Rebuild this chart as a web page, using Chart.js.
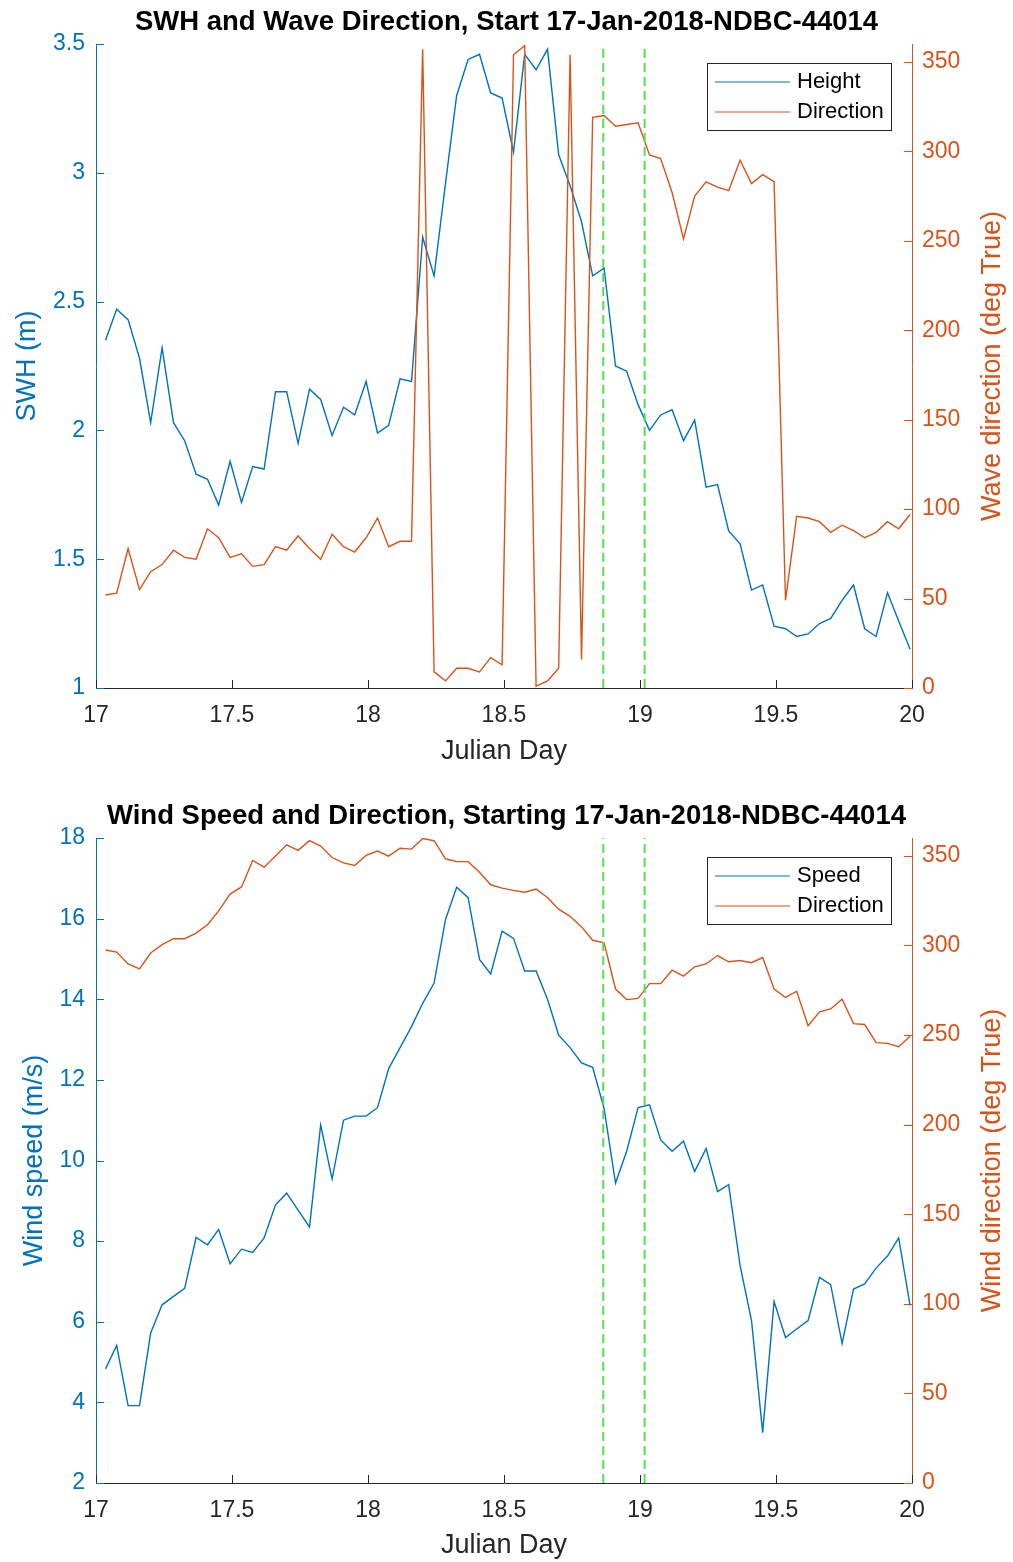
<!DOCTYPE html>
<html lang="en">
<head>
<meta charset="UTF-8">
<title>SWH and Wind - NDBC 44014</title>
<script src="https://cdn.jsdelivr.net/npm/chart.js"></script>
<style>
  body { margin: 0; background: #fff; }
  canvas { display: block; }
</style>
</head>
<body>
<canvas id="waveChart" width="1013" height="781"></canvas>
<canvas id="windChart" width="1013" height="781"></canvas>

<script>
// hourly samples (hh:50), Julian day
const julianDay = [
  17.035, 17.076, 17.118, 17.160, 17.201, 17.243, 17.285, 17.326, 17.368, 17.410, 17.451, 17.493,
  17.535, 17.576, 17.618, 17.660, 17.701, 17.743, 17.785, 17.826, 17.868, 17.910, 17.951, 17.993,
  18.035, 18.076, 18.118, 18.160, 18.201, 18.243, 18.285, 18.326, 18.368, 18.410, 18.451, 18.493,
  18.535, 18.576, 18.618, 18.660, 18.701, 18.743, 18.785, 18.826, 18.868, 18.910, 18.951, 18.993,
  19.035, 19.076, 19.118, 19.160, 19.201, 19.243, 19.285, 19.326, 19.368, 19.410, 19.451, 19.493,
  19.535, 19.576, 19.618, 19.660, 19.701, 19.743, 19.785, 19.826, 19.868, 19.910, 19.951, 19.993
];

// significant wave height (m)
const swh = [
  2.35, 2.47, 2.43, 2.28, 2.03, 2.32, 2.03, 1.96, 1.83, 1.81, 1.71, 1.88,
  1.72, 1.86, 1.85, 2.15, 2.15, 1.95, 2.16, 2.12, 1.98, 2.09, 2.06, 2.19,
  1.99, 2.02, 2.20, 2.19, 2.75, 2.60, 2.96, 3.30, 3.44, 3.46, 3.31, 3.29,
  3.08, 3.46, 3.40, 3.48, 3.07, 2.95, 2.81, 2.60, 2.63, 2.25, 2.23, 2.10,
  2.00, 2.06, 2.08, 1.96, 2.04, 1.78, 1.79, 1.61, 1.56, 1.38, 1.40, 1.24,
  1.23, 1.20, 1.21, 1.25, 1.27, 1.34, 1.40, 1.23, 1.20, 1.37, 1.26, 1.15
];

// mean wave direction (deg True)
const waveDir = [
  52, 53, 78, 55, 65, 69, 77, 73, 72, 89, 84, 73,
  75, 68, 69, 79, 77, 85, 78, 72, 86, 79, 76, 84,
  95, 79, 82, 82, 357, 9, 4, 11, 11, 9, 17, 13,
  354, 359, 1, 4, 11, 354, 16, 319, 320, 314, 315, 316,
  298, 296, 277, 251, 275, 283, 280, 278, 295, 282, 287, 283,
  49, 96, 95, 93, 87, 91, 88, 84, 87, 93, 89, 97
];

// wind speed (m/s)
const windSpeed = [
  4.83, 5.41, 3.92, 3.92, 5.72, 6.42, 6.63, 6.83, 8.09, 7.91, 8.29, 7.44,
  7.80, 7.72, 8.08, 8.90, 9.19, 8.77, 8.35, 10.88, 9.54, 11.00, 11.10, 11.10,
  11.31, 12.28, 12.80, 13.32, 13.90, 14.40, 15.98, 16.78, 16.52, 14.99, 14.63, 15.69,
  15.51, 14.70, 14.70, 14.00, 13.11, 12.80, 12.42, 12.31, 11.29, 9.44, 10.23, 11.31,
  11.38, 10.51, 10.23, 10.48, 9.73, 10.30, 9.23, 9.40, 7.39, 6.03, 3.25, 6.50,
  5.61, 5.82, 6.03, 7.10, 6.92, 5.46, 6.81, 6.94, 7.33, 7.63, 8.08, 6.40
];

// wind direction (deg True)
const windDir = [
  297.5, 296.3, 289.7, 286.9, 295.8, 300.5, 303.8, 303.8, 306.9, 311.6, 319.3, 328.7,
  332.7, 347.5, 343.7, 349.9, 356.2, 353.1, 358.5, 355.5, 349.1, 346.1, 344.7, 350.3,
  352.7, 349.9, 354.3, 353.8, 359.7, 358.5, 348.4, 346.8, 346.8, 340.9, 333.9, 332.0,
  330.8, 329.7, 331.5, 326.8, 320.3, 316.3, 310.4, 302.9, 301.5, 275.7, 269.8, 270.5,
  278.7, 278.7, 286.2, 282.9, 288.1, 289.7, 294.4, 290.9, 291.6, 290.4, 293.3, 275.7,
  271.0, 274.5, 255.2, 263.0, 264.6, 270.0, 256.4, 255.9, 245.8, 245.4, 243.5, 249.4
];

// green dashed markers
const markerDays = [18.865, 19.017];

// axis ticks
const dayTicks = [17, 17.5, 18, 18.5, 19, 19.5, 20];
const swhTicks = [1, 1.5, 2, 2.5, 3, 3.5];
const speedTicks = [2, 4, 6, 8, 10, 12, 14, 16, 18];
const dirTicks = [0, 50, 100, 150, 200, 250, 300, 350];

const FONT = "'Liberation Sans', Arial, Helvetica, sans-serif";
const BLUE = '#0072BD', ORANGE = '#D95319', AXIS = '#262626', GREEN = '#55dd55';

function pts(ys) {
  return ys.map((y, i) => ({ x: julianDay[i], y: y }));
}

// MATLAB style: tick marks point into the plot
const innerTicks = {
  id: 'innerTicks',
  afterDraw(chart) {
    const ctx = chart.ctx, a = chart.chartArea;
    ctx.save();
    ctx.lineWidth = 1;
    ['x', 'yL', 'yR'].forEach(id => {
      const s = chart.scales[id];
      ctx.strokeStyle = s.options.border.color;
      s.ticks.forEach(t => {
        const p = Math.round(s.getPixelForValue(t.value)) + 0.5;
        ctx.beginPath();
        if (id === 'x') { ctx.moveTo(p, a.bottom); ctx.lineTo(p, a.bottom - 8); }
        else if (id === 'yL') { ctx.moveTo(a.left, p); ctx.lineTo(a.left + 8, p); }
        else { ctx.moveTo(a.right, p); ctx.lineTo(a.right - 8, p); }
        ctx.stroke();
      });
    });
    ctx.restore();
  }
};

// right y label reads bottom-to-top like MATLAB
const rightTitle = {
  id: 'rightTitle',
  afterDraw(chart, args, opts) {
    const ctx = chart.ctx, a = chart.chartArea;
    ctx.save();
    ctx.translate(opts.x, (a.top + a.bottom) / 2);
    ctx.rotate(-Math.PI / 2);
    ctx.font = '27px ' + FONT;
    ctx.fillStyle = ORANGE;
    ctx.textAlign = 'center';
    ctx.textBaseline = 'middle';
    ctx.fillText(opts.text, 0, 0);
    ctx.restore();
  }
};

// boxed legend in the top right corner of the axes
const boxLegend = {
  id: 'boxLegend',
  afterDraw(chart) {
    const ctx = chart.ctx, a = chart.chartArea;
    const items = chart.data.datasets
      .filter(d => d.legendRank !== undefined)
      .sort((p, q) => p.legendRank - q.legendRank);
    const w = 184, h = 67;
    const right = a.right - 21, top = a.top + 19, left = right - w;
    ctx.save();
    ctx.fillStyle = '#fff';
    ctx.fillRect(left, top, w, h);
    ctx.strokeStyle = AXIS;
    ctx.lineWidth = 1;
    ctx.strokeRect(left + 0.5, top + 0.5, w, h);
    ctx.font = '22px ' + FONT;
    ctx.textBaseline = 'middle';
    items.forEach((d, i) => {
      const y = top + 19 + i * 30;
      ctx.strokeStyle = d.borderColor;
      ctx.lineWidth = 1.2;
      ctx.beginPath();
      ctx.moveTo(left + 8, y);
      ctx.lineTo(left + 83, y);
      ctx.stroke();
      ctx.fillStyle = '#000';
      ctx.fillText(d.label, left + 90, y);
    });
    ctx.restore();
  }
};

function buildChart(id, o) {
  const yMin = o.leftTicks[0], yMax = o.leftTicks[o.leftTicks.length - 1];
  const markers = markerDays.map(d => ({
    data: [{ x: d, y: yMin }, { x: d, y: yMax }],
    yAxisID: 'yL', borderColor: GREEN, borderWidth: 2, borderDash: [9, 5],
    pointRadius: 0, order: 0
  }));
  return new Chart(document.getElementById(id), {
    type: 'line',
    data: {
      datasets: markers.concat([
        { label: o.rightLabel, data: pts(o.right), yAxisID: 'yR', borderColor: ORANGE,
          borderWidth: 1.4, pointRadius: 0, tension: 0, order: 1, legendRank: 1 },
        { label: o.leftLabel, data: pts(o.left), yAxisID: 'yL', borderColor: BLUE,
          borderWidth: 1.4, pointRadius: 0, tension: 0, order: 2, legendRank: 0 }
      ])
    },
    options: {
      responsive: false,
      animation: false,
      events: [],
      layout: { padding: 0 },
      plugins: {
        legend: { display: false },
        tooltip: { enabled: false },
        title: {
          display: true, text: o.title, color: '#000',
          font: { family: FONT, size: 27.5, weight: 'bold' },
          padding: { top: o.titleTop, bottom: 5.5 }
        },
        rightTitle: { text: o.rightAxisTitle, x: 993 }
      },
      scales: {
        x: {
          type: 'linear', min: 17, max: 20,
          afterFit: s => { s.height = o.xHeight; },
          afterBuildTicks: s => { s.ticks = dayTicks.map(v => ({ value: v })); },
          grid: { display: false, drawTicks: false },
          border: { display: true, color: AXIS, width: 1 },
          ticks: { color: AXIS, padding: 14, maxRotation: 0, font: { family: FONT, size: 23 },
                   callback: v => String(v) },
          title: { display: true, text: 'Julian Day', color: AXIS,
                   font: { family: FONT, size: 27 }, padding: { top: 0, bottom: o.xTitlePad } }
        },
        yL: {
          type: 'linear', position: 'left', min: yMin, max: yMax,
          afterFit: s => { s.width = 96; },
          afterBuildTicks: s => { s.ticks = o.leftTicks.map(v => ({ value: v })); },
          grid: { display: false, drawTicks: false },
          border: { display: true, color: BLUE, width: 1 },
          ticks: { color: BLUE, padding: 11, font: { family: FONT, size: 23 },
                   callback: v => String(v) },
          title: { display: true, text: o.leftAxisTitle, color: BLUE,
                   font: { family: FONT, size: 27 }, padding: { top: o.leftTitlePad, bottom: 0 } }
        },
        yR: {
          type: 'linear', position: 'right', min: 0, max: 360,
          afterFit: s => { s.width = 101; },
          afterBuildTicks: s => { s.ticks = dirTicks.map(v => ({ value: v })); },
          grid: { display: false, drawTicks: false },
          border: { display: true, color: ORANGE, width: 1 },
          ticks: { color: ORANGE, padding: 10, font: { family: FONT, size: 23 },
                   callback: v => String(v) }
        }
      }
    },
    plugins: [innerTicks, rightTitle, boxLegend]
  });
}

buildChart('waveChart', {
  title: 'SWH and Wave Direction, Start 17-Jan-2018-NDBC-44014',
  left: swh, right: waveDir, leftTicks: swhTicks,
  leftLabel: 'Height', rightLabel: 'Direction',
  leftAxisTitle: 'SWH (m)', rightAxisTitle: 'Wave direction (deg True)',
  titleTop: 5.5, xHeight: 93, xTitlePad: 13, leftTitlePad: 11
});

buildChart('windChart', {
  title: 'Wind Speed and Direction, Starting 17-Jan-2018-NDBC-44014',
  left: windSpeed, right: windDir, leftTicks: speedTicks,
  leftLabel: 'Speed', rightLabel: 'Direction',
  leftAxisTitle: 'Wind speed (m/s)', rightAxisTitle: 'Wind direction (deg True)',
  titleTop: 18.5, xHeight: 79, xTitlePad: 0, leftTitlePad: 18
});
</script>
</body>
</html>
